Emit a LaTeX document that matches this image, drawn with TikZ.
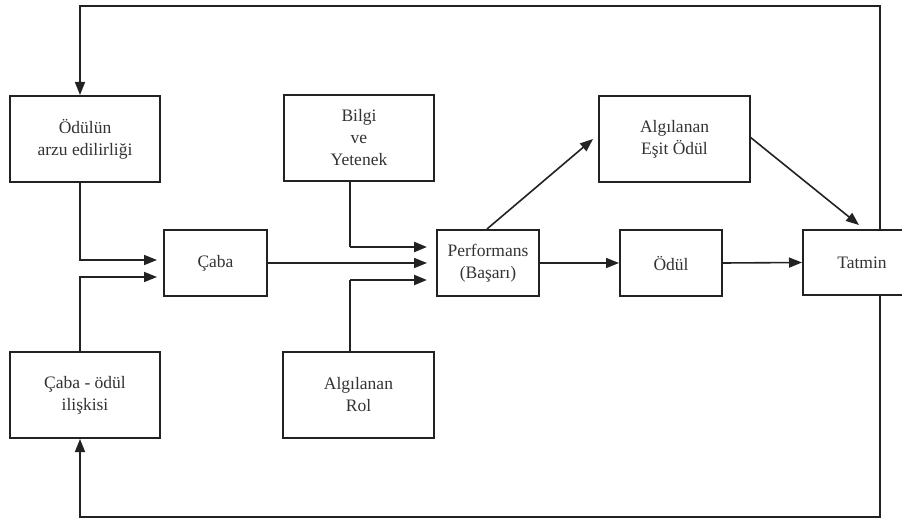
\documentclass[tikz,border=0pt]{standalone}
\usepackage{fontspec}
\setmainfont{Liberation Serif}
\usetikzlibrary{arrows.meta,calc}
\definecolor{ink}{HTML}{222222}
\definecolor{txt}{HTML}{333333}
\begin{document}
\begin{tikzpicture}[x=1pt,y=-1pt,
  box/.style={draw=ink,line width=2pt,rectangle,inner sep=0pt,align=center,
    text=txt,font=\fontsize{17.5}{22}\selectfont},
  arr/.style={draw=ink,line width=1.6pt,-{Triangle[length=13pt,width=10pt]}},
  thk/.style={draw=ink,line width=2.4pt,-{Triangle[length=13pt,width=10pt]}},
  ln/.style={draw=ink,line width=1.6pt}]
\useasboundingbox (0,0) rectangle (902,521);
\fill[white] (0,0) rectangle (902,521);

\node[box,minimum width=150pt,minimum height=86pt] (arzu) at (85,139) {Ödülün\\arzu edilirliği};
\node[box,minimum width=150pt,minimum height=86pt] (iliski) at (85,395) {Çaba - ödül\\ilişkisi};
\node[box,minimum width=103pt,minimum height=66pt] (caba) at (215.5,263) {Çaba};
\node[box,minimum width=150pt,minimum height=86pt] (bilgi) at (359,138) {Bilgi\\ve\\Yetenek};
\node[box,minimum width=151pt,minimum height=86pt] (rol) at (358.5,395) {Algılanan\\Rol};
\node[box,minimum width=102pt,minimum height=66pt] (perf) at (488,263) {Performans\\(Başarı)};
\node[box,minimum width=151pt,minimum height=86pt] (esit) at (674.5,139) {Algılanan\\Eşit Ödül};
\node[box,minimum width=102pt,minimum height=66pt] (odul) at (671,263) {Ödül};
\node[box,minimum width=118pt,minimum height=65pt] (tatmin) at (862,262.5) {Tatmin};

% named coordinates for loops and arrow ends
\coordinate (tr) at (880,6);
\coordinate (tl) at (80,6);
\coordinate (br) at (880,517);
\coordinate (bl) at (80,517);
\coordinate (c1) at (157,260);
\coordinate (c2) at (157,277);
\coordinate (p1) at (427,247);
\coordinate (p2) at (427,263);
\coordinate (p3) at (427,280);
\coordinate (bx) at (350,0);
\coordinate (pe1) at (487,229);
\coordinate (pe2) at (593,139);
\coordinate (es1) at (750,137);
\coordinate (es2) at (859,225);

% feedback loops
\draw[arr] (tatmin.north -| tr) -- (tr) -- (tl) -- (tl |- arzu.north);
\draw[arr] (tatmin.south -| br) -- (br) -- (bl) -- (bl |- iliski.south);

% into Çaba
\draw[arr] (arzu.south -| tl) |- (c1);
\draw[arr] (iliski.north -| bl) |- (c2);

% into Performans
\draw[arr] (caba.east |- p2) -- (p2);
\draw[ln] (bilgi.south -| bx) -- (bx |- p1);
\draw[thk] (bx |- p1) -- (p1);
\draw[ln] (rol.north -| bx) -- (bx |- p3);
\draw[thk] (bx |- p3) -- (p3);

% onward
\draw[arr] (perf.east) -- (odul.west);
\draw[arr] (odul.east) -- (tatmin.west);
\draw[arr] (pe1) -- (pe2);
\draw[arr] (es1) -- (es2);
\end{tikzpicture}
\end{document}
